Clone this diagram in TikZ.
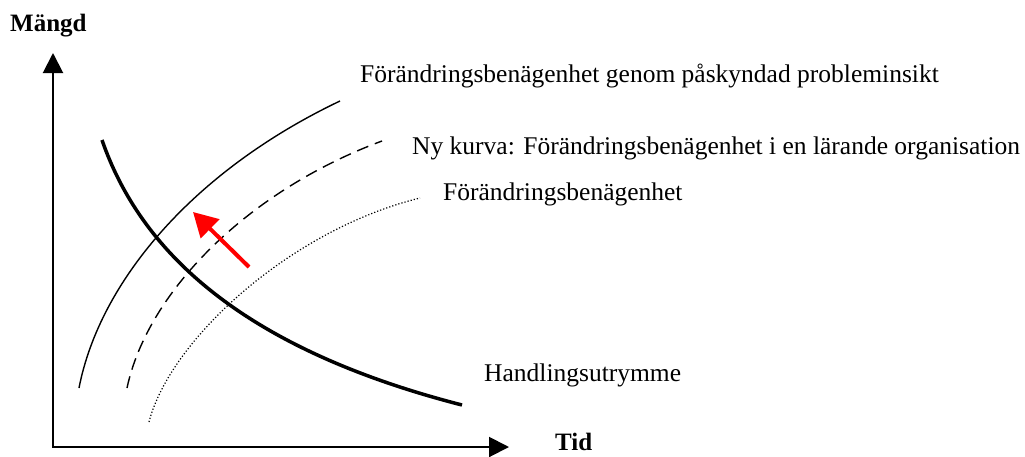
\documentclass[tikz,border=0pt]{standalone}
\usepackage{fontspec}
\setmainfont{Liberation Serif}
\usetikzlibrary{arrows.meta}
\tikzset{
  axis/.style={line width=2pt,-{Triangle[length=20pt,width=20pt]}},
  thickcurve/.style={line width=3.5pt},
  thincurve/.style={line width=1.4pt},
  dashcurve/.style={line width=1.4pt,dash pattern=on 12pt off 7pt},
  dotcurve/.style={line width=1.2pt,dash pattern=on 1.2pt off 2pt},
  redarrow/.style={line width=4pt,red,-{Triangle[length=24pt,width=26pt]}},
  lab/.style={anchor=base west,inner sep=0pt,font=\fontsize{25.5}{30}\selectfont},
  boldlab/.style={anchor=base west,inner sep=0pt,font=\fontsize{25}{30}\selectfont\bfseries}
}
\begin{document}
\begin{tikzpicture}[x=1pt,y=-1pt]
\useasboundingbox (0,0) rectangle (1025,456);
% axes
\coordinate (origin) at (53,447);
\coordinate (ytop) at (53,53);
\coordinate (xend) at (509,447);
\draw[axis] (origin) -- (ytop);
\draw[axis] ([xshift=-1pt]origin) -- (xend);
\node[boldlab] (mangd) at (10,31) {Mängd};
\node[boldlab] (tid) at (555,450) {Tid};
% curves
\coordinate (s0) at (79,388);  \coordinate (s1) at (340,101);
\coordinate (d0) at (127,388); \coordinate (d1) at (382,141);
\coordinate (p0) at (149,422); \coordinate (p1) at (420,198);
\coordinate (h0) at (102,140); \coordinate (h1) at (462,405);
\draw[thincurve] (s0) .. controls (100,280) and (195,170) .. (s1);
\draw[dashcurve] (d0) .. controls (148,290) and (250,190) .. (d1);
\draw[dotcurve] (p0) .. controls (170,340) and (290,230) .. (p1);
\draw[thickcurve] (h0) .. controls (140,250) and (240,348) .. (h1);
% red arrow
\coordinate (rtail) at (249,267);
\coordinate (rtip) at (193,212);
\draw[redarrow] (rtail) -- (rtip);
% labels
\node[lab] (l1) at (360,82) {Förändringsbenägenhet genom påskyndad probleminsikt};
\node[lab] (l2) at (412,154) {Ny kurva: Förändringsbenägenhet i en lärande organisation};
\node[lab] (l3) at (443,200) {Förändringsbenägenhet};
\node[lab] (l4) at (484,381) {Handlingsutrymme};
\end{tikzpicture}
\end{document}
